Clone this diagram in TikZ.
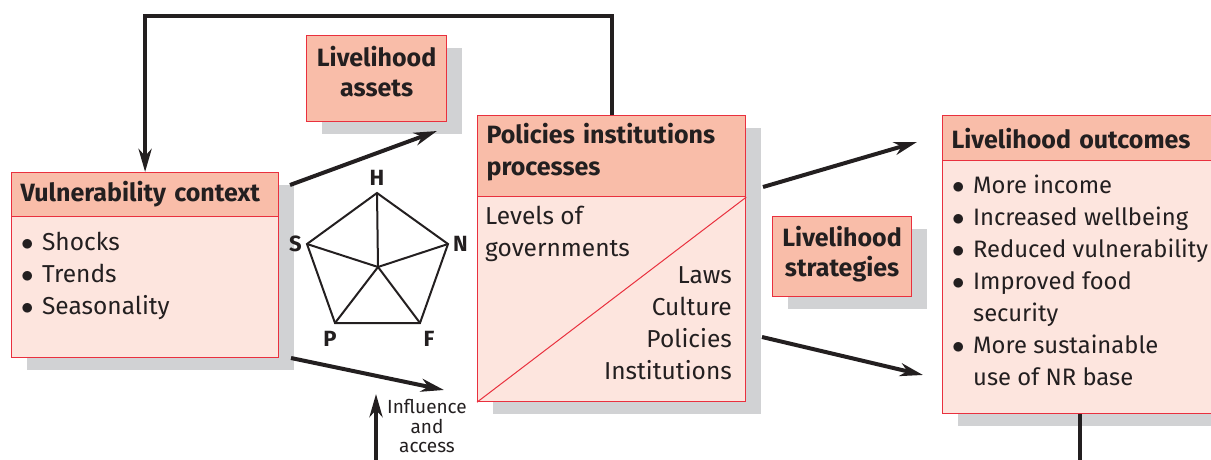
\documentclass[tikz,border=0pt]{standalone}
\usepackage{fontspec}
\setmainfont{Fira Sans}
\usetikzlibrary{positioning, arrows.meta, shadows}

\definecolor{headfill}{HTML}{F9BDA9}
\definecolor{bodyfill}{HTML}{FDE5DE}
\definecolor{boxred}{HTML}{E9303E}
\definecolor{shade}{HTML}{D1D2D4}
\definecolor{ink}{HTML}{231F20}

\newcommand\dotitem{$\bullet$}

\tikzset{
  panel/.style={draw=boxred, line width=1.2pt, fill=bodyfill, inner sep=0pt, anchor=north west,
    drop shadow={shadow xshift=15pt, shadow yshift=-12pt, fill=shade, opacity=1}},
  headbox/.style={draw=boxred, line width=1.2pt, fill=headfill, anchor=north west, inner xsep=9pt,
    inner ysep=0pt, align=left, text=ink, font=\fontsize{25}{32}\selectfont\bfseries},
  tagbox/.style={draw=boxred, line width=1.2pt, fill=headfill, anchor=north west, inner sep=0pt,
    align=center, text=ink, font=\fontsize{25}{30}\selectfont\bfseries,
    drop shadow={shadow xshift=15pt, shadow yshift=-12pt, fill=shade, opacity=1}},
  bodytext/.style={inner sep=0pt, text=ink, font=\fontsize{24.5}{32}\selectfont},
  corner/.style={inner sep=0pt, text=ink, font=\fontsize{22}{26}\selectfont\bfseries},
  link/.style={line width=4pt, draw=ink, -{Stealth[length=23pt, width=13pt, inset=7pt]}},
}

\begin{document}
\begin{tikzpicture}[x=1pt, y=-1pt]
\useasboundingbox (0,0) rectangle (1211,460);

% vulnerability context
\node[panel, minimum width=267pt, minimum height=185pt] (vuln) at (11,172) {};
\node[headbox, text width=249pt, minimum height=44pt] (vulnhead) at (vuln.north west) {Vulnerability context};
\node[bodytext, anchor=north west, below right=11pt and 10pt of vulnhead.south west] (vulnlist)
  {\begin{tabular}{@{}l@{\hspace{8.5pt}}l@{}}
   \dotitem & Shocks\\
   \dotitem & Trends\\
   \dotitem & Seasonality
   \end{tabular}};

% livelihood assets
\node[tagbox, minimum width=140pt, text height=60.5pt, text depth=25.5pt] (assets) at (306,35) {Livelihood\\assets};

% policies institutions processes
\node[panel, minimum width=268pt, minimum height=286pt] (pol) at (477,115) {};
\node[headbox, text width=250pt, text height=28pt, text depth=53pt] (polhead) at (pol.north west) {Policies institutions\\processes};
\draw[boxred, line width=1pt] (pol.south west) -- (pol.east |- polhead.south);
\node[bodytext, anchor=north west, below right=5pt and 8pt of polhead.south west] (levels)
  {\begin{tabular}{@{}l@{}}
   Levels of\\
   governments
   \end{tabular}};
\node[bodytext, anchor=north east] (rules) at (732,261)
  {\begin{tabular}{@{}r@{}}
   Laws\\
   Culture\\
   Policies\\
   Institutions
   \end{tabular}};

% livelihood strategies
\node[tagbox, minimum width=139pt, text height=59.5pt, text depth=20.5pt] (strat) at (772,216) {Livelihood\\strategies};

% livelihood outcomes
\node[panel, minimum width=274pt, minimum height=298pt] (out) at (942,115) {};
\node[headbox, text width=256pt, minimum height=45pt] (outhead) at (out.north west) {Livelihood outcomes};
\node[bodytext, font=\fontsize{23.8}{32}\selectfont, anchor=north west, below right=10pt and 10pt of outhead.south west] (outlist)
  {\begin{tabular}{@{}l@{\hspace{8.5pt}}l@{}}
   \dotitem & More income\\
   \dotitem & Increased wellbeing\\
   \dotitem & Reduced vulnerability\\
   \dotitem & Improved food\\
     & security\\
   \dotitem & More sustainable\\
     & use of NR base
   \end{tabular}};

% asset pentagon
\coordinate (H) at (377,193);
\coordinate (N) at (448,244);
\coordinate (F) at (420,323);
\coordinate (P) at (335,323);
\coordinate (S) at (307,244);
\coordinate (hub) at (378,267);
\draw[ink, line width=2pt, line join=miter] (H) -- (N) -- (F) -- (P) -- (S) -- cycle;
\foreach \v in {H,N,F,P,S}
  \draw[ink, line width=2pt] (hub) -- (\v);
\node[corner, above=7pt of H] (labH) {H};
\node[corner, left=5pt of S] (labS) {S};
\node[corner, right=5pt of N] (labN) {N};
\node[corner, below=8pt of P, xshift=-5pt] (labP) {P};
\node[corner, below=8pt of F, xshift=9pt] (labF) {F};

% arrows
\coordinate (vulnup) at (290,185);
\coordinate (vulnupend) at (437,131);
\coordinate (vulndown) at (291,358);
\coordinate (vulndownend) at (444,390);
\coordinate (polup) at (763,187);
\coordinate (polupend) at (917,142);
\coordinate (poldown) at (762,337);
\coordinate (poldownend) at (923,375);
\coordinate (infl) at (376,460);
\coordinate (inflend) at (376,394);
\draw[link] (vulnup) -- (vulnupend);
\draw[link] (vulndown) -- (vulndownend);
\draw[link] (polup) -- (polupend);
\draw[link] (poldown) -- (poldownend);
\draw[link] (infl) -- (inflend);
\draw[link] (pol.north) -- ++(0,-99) -| (vuln.north);
\draw[line width=4pt, ink] (out.south) -- ++(0,50);

\node[inner sep=0pt, text=ink, align=center, font=\fontsize{19}{19.5}\selectfont] (access) at (427,426)
  {Influence\\and\\access};
\end{tikzpicture}
\end{document}
